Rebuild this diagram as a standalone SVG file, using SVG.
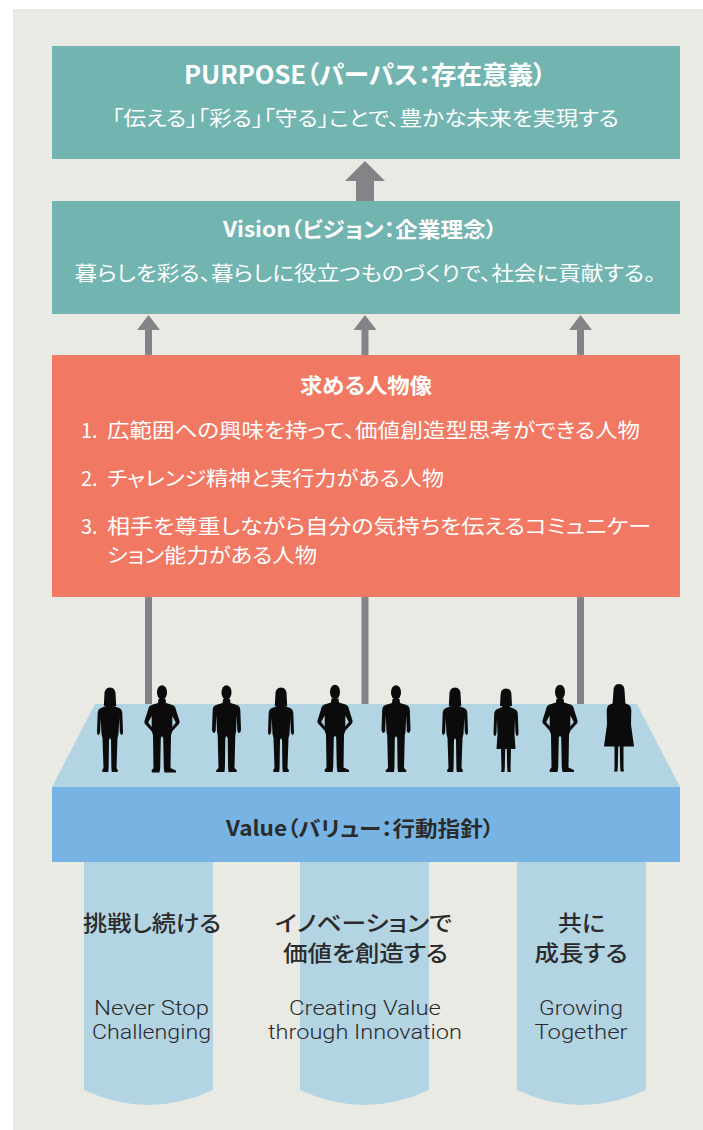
<svg xmlns="http://www.w3.org/2000/svg" xmlns:xlink="http://www.w3.org/1999/xlink" width="703" height="1130" viewBox="0 0 703 1130">
  <style>
    text{font-family:"Noto Sans CJK JP","Noto Sans",sans-serif;font-feature-settings:"palt" 1;dominant-baseline:central}
    .w{fill:#ffffff}
    .d{fill:#2b2b2b}
    .b{font-weight:700}
    .m{font-weight:500}
    .c{text-anchor:middle}
    .en{font-family:Roboto,"Noto Sans",sans-serif;font-weight:300;dominant-baseline:auto;fill:#2b2b2b;text-anchor:middle}
    .teal{fill:#71b4b0}
    .coral{fill:#f17863}
    .pale{fill:#b3d4e3}
    .blue{fill:#78b4e3}
    .arrow{fill:#838388}
    .fig{fill:#0b0b0b}
  </style>
  <defs>
    <!-- standing man, arms down; origin = top of head, centre line -->
    <g id="man">
      <ellipse cx="0" cy="7.5" rx="5" ry="7.3"/>
      <path d="M-3.5,14 L3.5,14 L4,18 L10.5,20 Q13.5,21 13.8,25 L14.5,44 Q14.5,48 12,48 L10.8,46 L10.2,30 L9.5,47 L8.8,50 L8,83 L10.5,85.5 L10,87 L2,87 L1.6,83 L1.2,53 L0,51 L-1.2,53 L-1.6,83 L-2,87 L-10,87 L-10.5,85.5 L-8,83 L-8.8,50 L-9.5,47 L-10.2,30 L-10.8,46 L-12,48 Q-14.5,48 -14.5,44 L-13.8,25 Q-13.5,21 -10.5,20 L-4,18 Z"/>
    </g>
    <!-- man with hands in pockets, elbows out -->
    <g id="manPockets">
      <ellipse cx="0" cy="7.5" rx="5" ry="7.3"/>
      <path fill-rule="evenodd" d="M-3.5,14 L3.5,14 L4,18 L10.5,20 Q13.5,21 14,25 L17.5,36 Q18,38.5 16,40 L10.5,46 L9,50 L8.5,83 L14,85.5 L14,87.5 L2.5,87.5 L1.8,83 L1.2,53 L0,51 L-1.2,53 L-1.8,83 L-2.5,87.5 L-10,87.5 L-10.5,85.5 L-8.5,83 L-9,50 L-10.5,46 L-16,40 Q-18,38.5 -17.5,36 L-14,25 Q-13.5,21 -10.5,20 L-4,18 Z M10.3,31 L13.8,37.5 L10.3,42 Z M-10.3,31 L-13.8,37.5 L-10.3,42 Z"/>
    </g>
    <!-- woman in trousers, shoulder-length hair -->
    <g id="woman">
      <path d="M-5.6,7 Q-5.8,-0.5 0,-0.5 Q5.8,-0.5 5.6,7 L6.2,18 L-6.2,18 Z"/>
      <path d="M-3,14 L3,14 L4,18 L9,20 Q12,21 12.3,25 L13,44 Q13,47 11,47 L9.8,44 L9.3,30 L8.5,46 L7.5,50 L6.5,80 L8,82.5 L7.5,84 L1.8,84 L1.4,80 L1,52 L0,50 L-1,52 L-1.4,80 L-1.8,84 L-7.5,84 L-8,82.5 L-6.5,80 L-7.5,50 L-8.5,46 L-9.3,30 L-9.8,44 L-11,47 Q-13,47 -13,44 L-12.3,25 Q-12,21 -9,20 L-4,18 Z"/>
    </g>
    <!-- woman in a skirt -->
    <g id="womanSkirt">
      <path d="M-5.5,7 Q-5.7,-0.5 0,-0.5 Q5.7,-0.5 5.5,7 L6,17 L-6,17 Z"/>
      <path d="M-3,14 L3,14 L4,18 L8.5,20 Q11.5,21 11.8,25 L12.5,44 Q12.5,47 10.5,47 L9.5,44 L9,30 L8.5,45 L9.5,60 L5,60 L4.5,80 L5,83 L1.5,83 L1.2,78 L0.8,60 L-0.8,60 L-1.2,78 L-1.5,83 L-5,83 L-4.5,80 L-5,60 L-9.5,60 L-8.5,45 L-9,30 L-9.5,44 L-10.5,47 Q-12.5,47 -12.5,44 L-11.8,25 Q-11.5,21 -8.5,20 L-4,18 Z"/>
    </g>
    <!-- woman in a dress, long hair -->
    <g id="womanDress">
      <path d="M-5.6,7 Q-5.8,-0.5 0,-0.5 Q5.8,-0.5 5.6,7 L6.6,23 L-6.6,23 Z"/>
      <path d="M-3,14 L3,14 L4,18 L9,20 Q12,21 12.3,26 L12,40 L15,62 L4.5,62 L4.5,84 L5,87 L1.5,87 L1.2,82 L0.8,62 L-0.8,62 L-1.2,82 L-1.5,87 L-5,87 L-4.5,84 L-4.5,62 L-15,62 L-12,40 L-12.3,26 Q-12,21 -9,20 L-4,18 Z"/>
    </g>
  </defs>

  <!-- backdrop -->
  <rect x="0" y="0" width="703" height="1130" fill="#ffffff"/>
  <rect x="13" y="9" width="690" height="1121" fill="#eaeae5"/>

  <!-- connectors -->
  <g id="connectors" class="arrow">
    <!-- Vision to PURPOSE -->
    <path d="M365,161 L385,181 L374,181 L374,201 L356,201 L356,181 L345,181 Z"/>
    <!-- persona to Vision -->
    <path d="M148.5,315 L160,330 L152,330 L152,355 L145,355 L145,330 L137,330 Z"/>
    <path d="M365,315 L376.5,330 L368.5,330 L368.5,355 L361.5,355 L361.5,330 L353.5,330 Z"/>
    <path d="M580.5,315 L592,330 L584,330 L584,355 L577,355 L577,330 L569,330 Z"/>
    <!-- people to persona -->
    <rect x="145" y="596" width="7" height="110"/>
    <rect x="361.5" y="596" width="7" height="110"/>
    <rect x="577" y="596" width="7" height="110"/>
  </g>

  <g id="purpose">
    <rect class="teal" x="52" y="46" width="628" height="113"/>
    <text class="w b c" x="365" y="73" font-size="25" textLength="362" lengthAdjust="spacingAndGlyphs">PURPOSE（パーパス：存在意義）</text>
    <text class="w c" x="365.5" y="117.5" font-size="20" textLength="507" lengthAdjust="spacingAndGlyphs">「伝える」「彩る」「守る」ことで、豊かな未来を実現する</text>
  </g>

  <g id="vision">
    <rect class="teal" x="52" y="201" width="628" height="113"/>
    <text class="w b c" x="360" y="228" font-size="21" textLength="274" lengthAdjust="spacingAndGlyphs">Vision（ビジョン：企業理念）</text>
    <text class="w c" x="365" y="272" font-size="20" textLength="581" lengthAdjust="spacingAndGlyphs">暮らしを彩る、暮らしに役立つものづくりで、社会に貢献する。</text>
  </g>

  <g id="persona">
    <rect class="coral" x="52" y="355" width="628" height="242"/>
    <text class="w b c" x="366" y="383.5" font-size="21" textLength="132" lengthAdjust="spacingAndGlyphs">求める人物像</text>
    <text class="w" x="81" y="429" font-size="20">1.</text>
    <text class="w" x="107" y="429" font-size="20" textLength="533" lengthAdjust="spacingAndGlyphs">広範囲への興味を持って、価値創造型思考ができる人物</text>
    <text class="w" x="81" y="477" font-size="20">2.</text>
    <text class="w" x="107" y="477" font-size="20" textLength="337" lengthAdjust="spacingAndGlyphs">チャレンジ精神と実行力がある人物</text>
    <text class="w" x="81" y="525.5" font-size="20">3.</text>
    <text class="w" x="107" y="525.5" font-size="20" textLength="544" lengthAdjust="spacingAndGlyphs">相手を尊重しながら自分の気持ちを伝えるコミュニケー</text>
    <text class="w" x="107" y="554.5" font-size="20" textLength="210" lengthAdjust="spacingAndGlyphs">ション能力がある人物</text>
  </g>

  <g id="value">
    <path class="pale" d="M95,704 L637,704 L680,787 L52,787 Z"/>
    <rect class="blue" x="52" y="787" width="628" height="75"/>
    <text class="d b c" x="360" y="827" font-size="21" textLength="268" lengthAdjust="spacingAndGlyphs">Value（バリュー：行動指針）</text>
  </g>

  <g id="people" class="fig">
    <use href="#woman" x="110" y="688"/>
    <use href="#manPockets" x="162" y="685"/>
    <use href="#man" x="226.5" y="685"/>
    <use href="#woman" x="281" y="688"/>
    <use href="#manPockets" x="335" y="684.5"/>
    <use href="#man" x="396" y="685"/>
    <use href="#woman" x="455" y="688"/>
    <use href="#womanSkirt" x="506" y="689"/>
    <use href="#manPockets" x="560" y="684.5"/>
    <use href="#womanDress" x="619" y="684.5"/>
  </g>

  <g id="pillar-1">
    <path class="pale" d="M84,862 H213 V1090 Q148.5,1120 84,1090 Z"/>
    <text class="d m c" x="152" y="921" font-size="22" textLength="138" lengthAdjust="spacingAndGlyphs">挑戦し続ける</text>
    <text class="en" x="151.5" y="1015" font-size="21" textLength="115" lengthAdjust="spacingAndGlyphs">Never Stop</text>
    <text class="en" x="151.5" y="1039" font-size="21" textLength="119" lengthAdjust="spacingAndGlyphs">Challenging</text>
  </g>

  <g id="pillar-2">
    <path class="pale" d="M300,862 H429 V1090 Q364.5,1120 300,1090 Z"/>
    <text class="d m c" x="363.5" y="921" font-size="22" textLength="177" lengthAdjust="spacingAndGlyphs">イノベーションで</text>
    <text class="d m c" x="365.5" y="951" font-size="22" textLength="165" lengthAdjust="spacingAndGlyphs">価値を創造する</text>
    <text class="en" x="365" y="1015" font-size="21" textLength="152" lengthAdjust="spacingAndGlyphs">Creating Value</text>
    <text class="en" x="365" y="1039" font-size="21" textLength="194" lengthAdjust="spacingAndGlyphs">through Innovation</text>
  </g>

  <g id="pillar-3">
    <path class="pale" d="M517,862 H646 V1090 Q581.5,1120 517,1090 Z"/>
    <text class="d m c" x="581.5" y="921" font-size="22" textLength="47" lengthAdjust="spacingAndGlyphs">共に</text>
    <text class="d m c" x="581" y="951" font-size="22" textLength="93" lengthAdjust="spacingAndGlyphs">成長する</text>
    <text class="en" x="581" y="1015" font-size="21" textLength="84" lengthAdjust="spacingAndGlyphs">Growing</text>
    <text class="en" x="581" y="1039" font-size="21" textLength="93" lengthAdjust="spacingAndGlyphs">Together</text>
  </g>
</svg>
